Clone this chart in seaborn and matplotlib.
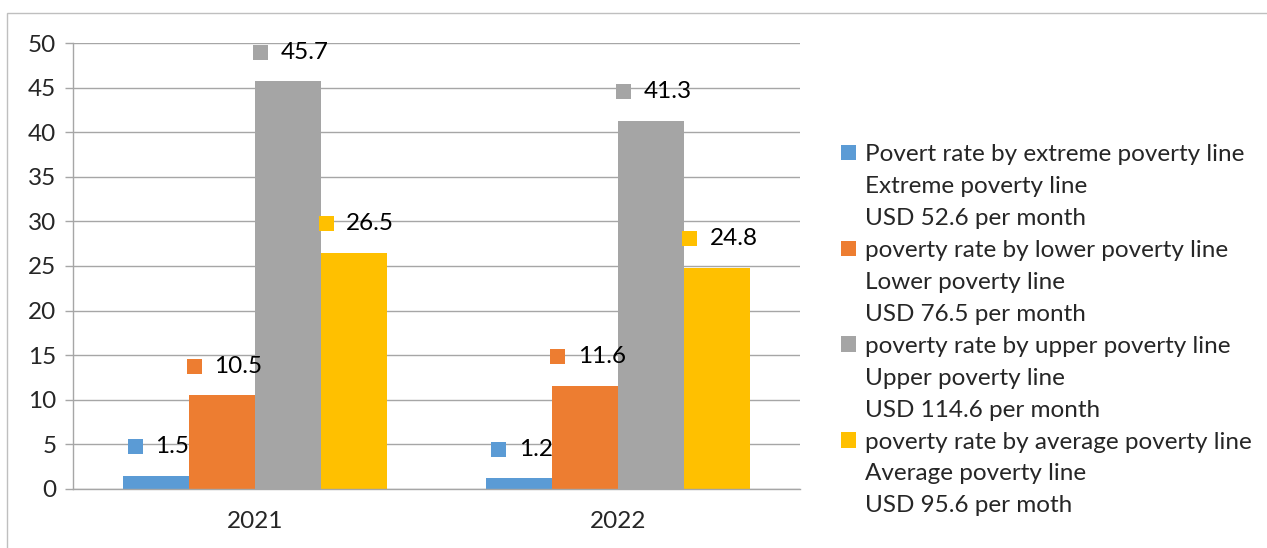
import pandas as pd
import matplotlib
matplotlib.use("Agg")
import matplotlib.pyplot as plt
from matplotlib.patches import Patch, Rectangle
from matplotlib.offsetbox import AnnotationBbox, DrawingArea, HPacker, TextArea
import seaborn as sns

years = ["2021", "2022"]
series = [
    "Povert rate by extreme poverty line",
    "poverty rate by lower poverty line",
    "poverty rate by upper poverty line",
    "poverty rate by average poverty line",
]
series_notes = [
    ["Extreme poverty line", "USD 52.6 per month"],
    ["Lower poverty line", "USD 76.5 per month"],
    ["Upper poverty line", "USD 114.6 per month"],
    ["Average poverty line", "USD 95.6 per moth"],
]
extreme = [1.5, 1.2]
lower = [10.5, 11.6]
upper = [45.7, 41.3]
average = [26.5, 24.8]
colors = ["#5B9BD5", "#ED7D31", "#A5A5A5", "#FFC000"]

rows = []
for name, vals in zip(series, [extreme, lower, upper, average]):
    for yr, v in zip(years, vals):
        rows.append({"year": yr, "series": name, "rate": v})
df = pd.DataFrame(rows)

sns.set_theme(style="white")
plt.rcParams["font.family"] = ["Lato", "DejaVu Sans"]
FS = 17.5

fig = plt.figure(figsize=(12.67, 5.48), dpi=100)
ax = fig.add_axes([0.0576, 0.1077, 0.5738, 0.8138])

sns.barplot(data=df, x="year", y="rate", hue="series", hue_order=series,
            palette=colors, width=0.727, saturation=1, linewidth=0,
            legend=False, ax=ax)

ax.set_ylim(0, 50)
ax.set_xlim(-0.5, 1.5)
ax.set_yticks(range(0, 51, 5))
ax.yaxis.grid(True, color="#a6a6a6", linewidth=1)
ax.set_axisbelow(True)
ax.set_xlabel("")
ax.set_ylabel("")
for s in ["top", "right"]:
    ax.spines[s].set_visible(False)
for s in ["left", "bottom"]:
    ax.spines[s].set_color("#a6a6a6")
    ax.spines[s].set_linewidth(1)
ax.tick_params(axis="y", length=6, width=1, color="#a6a6a6", labelsize=FS, pad=6, left=True)
ax.tick_params(axis="x", length=0, labelsize=FS, pad=16)

# data labels with a small colour key in front of the value
for cont, col in zip(ax.containers, colors):
    for bar in cont:
        h = bar.get_height()
        xc = bar.get_x() + bar.get_width() / 2
        da = DrawingArea(10.8, 10.8)
        da.add_artist(Rectangle((0, 0), 10.8, 10.8, facecolor=col, edgecolor="none"))
        ta = TextArea(f"{h:.1f}", textprops=dict(fontsize=FS, color="black"))
        box = HPacker(children=[da, ta], align="center", pad=0, sep=9)
        ab = AnnotationBbox(box, (xc, h), xybox=(2, 21), boxcoords="offset points",
                            frameon=False, pad=0, box_alignment=(0.5, 0.5),
                            annotation_clip=False)
        ax.add_artist(ab)

handles, labels = [], []
for name, notes, col in zip(series, series_notes, colors):
    handles.append(Patch(facecolor=col, edgecolor="none"))
    labels.append(name)
    for n in notes:
        handles.append(Patch(facecolor="none", edgecolor="none"))
        labels.append(n)
fig.legend(handles, labels, loc="upper left", bbox_to_anchor=(0.6638, 0.737),
           frameon=False, fontsize=FS, handlelength=0.62, handleheight=0.62,
           handletextpad=0.38, labelspacing=0.45, borderpad=0, borderaxespad=0)

# outer chart frame (only left and top edges fall inside the image)
fig.patches.append(Rectangle((7 / 1267, -0.1), 1.2, 1.1 - 13 / 548,
                             transform=fig.transFigure, fill=False,
                             edgecolor="#bfbfbf", linewidth=1))

fig.savefig("out.png", dpi=100)
